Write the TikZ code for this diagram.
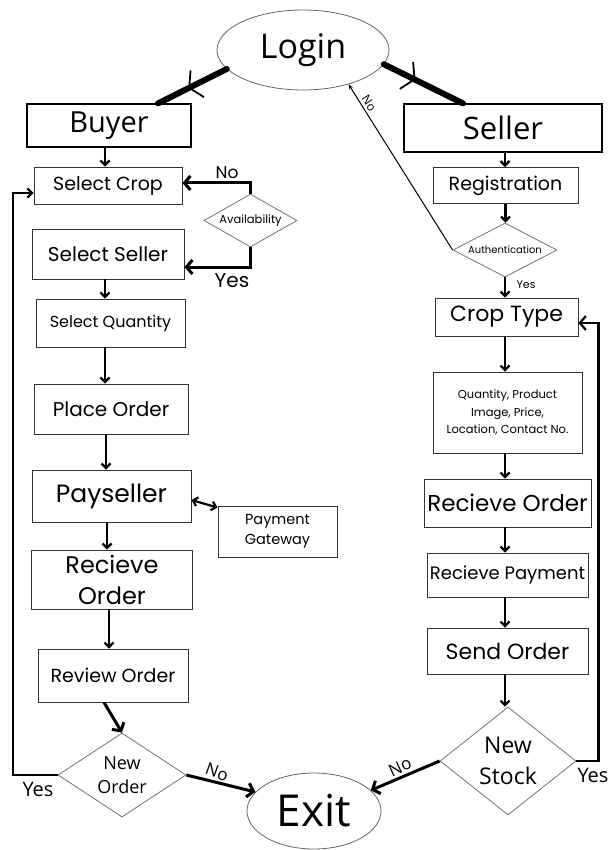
\documentclass[tikz,border=0pt]{standalone}
\usepackage{fontspec}
\newfontfamily\pop{Poppins}
\newfontfamily\osans{Open Sans}
\usetikzlibrary{shapes.geometric,arrows.meta,decorations.markings}
\newcommand\fsz[2]{\fontsize{#1}{#2}\selectfont}
\begin{document}
\begin{tikzpicture}[x=1pt,y=-1pt,
  box/.style={draw=black!80, line width=0.9pt, rectangle, inner sep=0pt, align=center},
  bigbox/.style={box, draw=black, line width=1.2pt},
  dia/.style={draw=black!55, line width=0.8pt, diamond, inner sep=0pt, align=center},
  oval/.style={draw=black!60, line width=0.8pt, ellipse, inner sep=0pt},
  arr/.style={line width=2.2pt, -{Straight Barb[length=4.5pt,width=9pt]}},
  barr/.style={line width=3pt, -{Straight Barb[length=6pt,width=14pt]}},
  thinarr/.style={line width=1pt, -{Stealth[length=5pt,width=4pt]}},
  fat/.style={line width=6pt, line cap=round, postaction={decorate},
    decoration={markings, mark=at position #1 with {\arrow[line width=1.8pt]{Straight Barb[length=9pt,width=30pt]}}}},
  lbl/.style={inner sep=0pt}
]
\fill[white] (0,0) rectangle (610,850);
\useasboundingbox (0,0) rectangle (610,850);

% nodes
\node[oval, minimum width=172pt, minimum height=80pt, font=\osans\fsz{34}{40}] (login) at (303,50) {Login};
\node[bigbox, minimum width=164pt, minimum height=43pt, font=\osans\fsz{29}{34}] (buyer) at (109,125.5) {Buyer};
\node[bigbox, minimum width=198pt, minimum height=48pt, font=\osans\fsz{31}{36}] (seller) at (503,128) {Seller};

\node[box, minimum width=148pt, minimum height=37pt, font=\pop\fsz{19}{23}] (selcrop) at (108,185.5) {Select Crop};
\node[dia, minimum width=93pt, minimum height=53pt, aspect=1.75, font=\pop\fsz{11.5}{14}] (avail) at (250.5,220.5) {Availability};
\node[box, minimum width=152pt, minimum height=50pt, font=\pop\fsz{20}{24}] (selseller) at (108,254) {Select Seller};
\node[box, minimum width=149pt, minimum height=48pt, font=\pop\fsz{16}{20}] (selqty) at (110.5,323) {Select Quantity};
\node[box, minimum width=154pt, minimum height=50pt, font=\pop\fsz{20}{24}] (place) at (111,409) {Place Order};
\node[box, minimum width=159pt, minimum height=52pt, font=\pop\fsz{25}{30}] (pay) at (111.5,496) {Payseller};
\node[box, minimum width=119pt, minimum height=51pt, font=\pop\fsz{14.5}{20}] (gw) at (277.5,531.5) {Payment\\Gateway};
\node[box, minimum width=161pt, minimum height=59pt, font=\pop\fsz{24}{31}] (recL) at (112,579.5) {Recieve\\Order};
\node[box, minimum width=150pt, minimum height=53pt, font=\pop\fsz{19}{23}] (review) at (113,675.5) {Review Order};
\node[dia, minimum width=128pt, minimum height=84pt, aspect=1.52, font=\osans\fsz{18}{24}] (neworder) at (122,775) {New\\Order};
\node[oval, minimum width=134pt, minimum height=76pt, font=\osans\fsz{44}{50}] (exit) at (314,811) {Exit};

\node[box, minimum width=145pt, minimum height=36pt, font=\pop\fsz{19}{23}] (reg) at (505.5,185.5) {Registration};
\node[dia, minimum width=104pt, minimum height=54pt, aspect=1.93, font=\pop\fsz{10}{12}] (auth) at (505,250) {Authentication};
\node[box, minimum width=143pt, minimum height=38pt, font=\pop\fsz{22}{26}] (crop) at (506.5,317) {Crop Type};
\node[box, minimum width=149pt, minimum height=81pt, font=\pop\fsz{11.5}{17.5}] (qty) at (507.5,412.5) {Quantity, Product\\Image, Price,\\Location, Contact No.};
\node[box, minimum width=167pt, minimum height=48pt, font=\pop\fsz{23}{27}] (recR) at (507.5,503) {Recieve Order};
\node[box, minimum width=161pt, minimum height=44pt, font=\pop\fsz{18}{22}] (recpay) at (507.5,575) {Recieve Payment};
\node[box, minimum width=161pt, minimum height=46pt, font=\pop\fsz{22}{26}] (send) at (507.5,651) {Send Order};
\node[dia, minimum width=136pt, minimum height=108pt, aspect=1.26, font=\osans\fsz{23}{31}] (newstock) at (508,761) {New\\Stock};

% thick login connectors
\draw[fat=0.56] (login.194) -- ([xshift=49pt]buyer.north);
\draw[fat=0.4] (login.-10) -- ([xshift=-40pt]seller.north);

% buyer column
\draw[arr] ([xshift=-4pt]buyer.south) -- ([xshift=-4pt]buyer.south |- selcrop.north);
\draw[barr] (avail.north) |- ([yshift=2.5pt]selcrop.east);
\draw[barr] (avail.south) |- ([yshift=-13pt]selseller.east);
\draw[arr] ([xshift=-3pt]selseller.south) -- ([xshift=-3pt]selseller.south |- selqty.north);
\draw[arr] ([xshift=-5.5pt]selqty.south) -- ([xshift=-5.5pt]selqty.south |- place.north);
\draw[arr] ([xshift=-5pt]place.south) -- ([xshift=-5pt]place.south |- pay.north);
\draw[line width=2.2pt, {Straight Barb[length=4.5pt,width=9pt]}-{Straight Barb[length=4.5pt,width=9pt]}] ([yshift=-4pt]pay.east) -- ([yshift=-2pt]gw.north west);
\draw[arr] ([xshift=-4.5pt]pay.south) -- ([xshift=-4.5pt]pay.south |- recL.north);
\draw[arr] ([xshift=-3pt]recL.south) -- ([xshift=-3pt]recL.south |- review.north);
\draw[barr] ([xshift=-9pt]review.south) -- (neworder.north);
\draw[line width=2.2pt, -{Straight Barb[length=4.5pt,width=9pt]}] (neworder.west) -- ++(-45,0) |- ([yshift=-7.5pt]selcrop.west);
\draw[barr] (neworder.east) -- (exit.162);

% seller column
\draw[arr] ([xshift=2pt]seller.south) -- ([xshift=2pt]seller.south |- reg.north);
\draw[arr] (reg.south) -- (reg.south |- auth.north);
\draw[arr] (auth.south) -- (auth.south |- crop.north);
\draw[thinarr] (auth.west) -- (login.-37);
\draw[arr] ([xshift=-1.5pt]crop.south) -- ([xshift=-1.5pt]crop.south |- qty.north);
\draw[arr] ([xshift=-2.5pt]qty.south) -- ([xshift=-2.5pt]qty.south |- recR.north);
\draw[arr] ([xshift=-2.5pt]recR.south) -- ([xshift=-2.5pt]recR.south |- recpay.north);
\draw[arr] ([xshift=-2.5pt]recpay.south) -- ([xshift=-2.5pt]recpay.south |- send.north);
\draw[arr] ([xshift=-2.5pt]send.south) -- ([xshift=-2.5pt]send.south |- newstock.north);
\draw[line width=2.2pt, -{Straight Barb[length=6pt,width=14pt]}] (newstock.east) -- ++(22,0) |- ([yshift=-6pt]crop.east);
\draw[barr] (newstock.west) -- (exit.20);

% labels
\node[lbl, font=\pop\fsz{17}{20}] (noA) at (227,173) {No};
\node[lbl, font=\pop\fsz{20}{24}] (yesA) at (232,281) {Yes};
\node[lbl, font=\pop\fsz{11}{13}] (yesAuth) at (526,285) {Yes};
\node[lbl, font=\osans\fsz{12}{14}, rotate=-57] (noAuth) at (369,103) {No};
\node[lbl, font=\osans\fsz{20}{24}] (yesNO) at (38,789) {Yes};
\node[lbl, font=\osans\fsz{17}{20}, rotate=-20] (noNO) at (217,772) {No};
\node[lbl, font=\osans\fsz{20}{24}] (yesNS) at (593,775) {Yes};
\node[lbl, font=\osans\fsz{17}{20}, rotate=25] (noNS) at (400,767) {No};
\end{tikzpicture}
\end{document}
